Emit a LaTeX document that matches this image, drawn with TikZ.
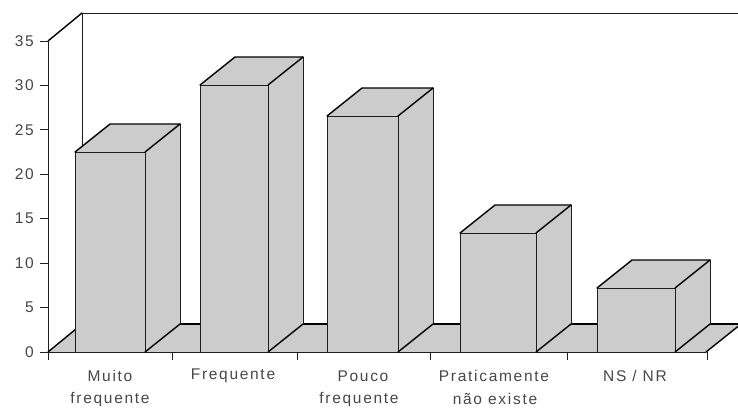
\documentclass[tikz,border=0pt]{standalone}
\usepackage{fontspec}
\setmainfont{Liberation Sans}[LetterSpace=11]
\definecolor{barfill}{RGB}{204,204,204}
\definecolor{inkline}{RGB}{30,30,30}
\tikzset{
  thinedge/.style={draw=inkline, line width=0.8pt, line join=miter},
  thickedge/.style={draw=black, line width=1.4pt, line cap=round, line join=round},
  face/.style={fill=barfill, draw=inkline, line width=0.8pt, line join=miter},
  lbl/.style={font=\fontsize{15.5}{18}\selectfont, inner sep=0pt, text=black!72},
}
\begin{document}
\begin{tikzpicture}[x=1pt,y=-1pt]
\useasboundingbox (0,0) rectangle (738,407);
\clip (0,0) rectangle (738,407);
% back wall and left wall
\coordinate (axtop) at (48,41);
\coordinate (axbot) at (48,352);
\coordinate (bktop) at (82,13);
\coordinate (bkbot) at (82,324);
\coordinate (bkright) at (760,13);
\draw[thinedge] (bktop) -- (bkright);
\draw[thinedge] (bktop) -- (bkbot);
\draw[thickedge] (axtop) -- (bktop);
\draw[thinedge] (axtop) -- (axbot);
% floor
\coordinate (flfl) at (48,352);
\coordinate (flfr) at (706,352);
\coordinate (flbr) at (741,324);
\coordinate (flbl) at (82,324);
\fill[barfill] (flfl) -- (flfr) -- (flbr) -- (flbl) -- cycle;
\draw[thinedge] (flfl) -- (flfr);
\draw[thickedge] (flbl) -- (flbr);
\draw[thickedge] (flfl) -- (flbl);
\draw[thickedge] (flfr) -- (flbr);
% y ticks and labels
\foreach \v in {0,5,...,35}{
  \draw[thinedge] (40,{352-\v*311/35}) -- (48,{352-\v*311/35});
  \node[lbl, anchor=east] (y\v) at (34,{352-\v*311/35}) {\v};
}
% x ticks
\foreach \t in {48,172,297,430,567,707}{
  \draw[thinedge] (\t,352) -- (\t,360);
}
% bars
\foreach \L/\R/\T in {75/145/152, 200/268/85, 327/398/116, 460/536/233, 597/675/288}{
  \fill[barfill] (\L,352) rectangle (\R,\T);
  \fill[barfill] (\R,352) -- ({\R+35},324) -- ({\R+35},{\T-28}) -- (\R,\T) -- cycle;
  \fill[barfill] (\L,\T) -- ({\L+35},{\T-28}) -- ({\R+35},{\T-28}) -- (\R,\T) -- cycle;
  \draw[thinedge] (\L,352) -- (\L,\T) -- (\R,\T) -- (\R,352);
  \draw[thinedge] ({\R+35},324) -- ({\R+35},{\T-28});
  \draw[thickedge] (\L,\T) -- ({\L+35},{\T-28}) -- ({\R+35},{\T-28});
  \draw[thickedge] (\R,\T) -- ({\R+35},{\T-28});
  \draw[thickedge] (\R,352) -- ({\R+35},324);
  \draw[thinedge] (\L,352) -- (\R,352);
}
% category labels
\node[lbl] (c1a) at (110,376) {Muito};
\node[lbl] (c1b) at (110,399) {frequente};
\node[lbl] (c2a) at (233,376) {Frequente};
\node[lbl] (c3a) at (363,376) {Pouco};
\node[lbl] (c3b) at (359,399) {frequente};
\node[lbl] (c4a) at (494,376) {Praticamente};
\node[lbl] (c4b) at (495,399) {não existe};
\node[lbl] (c5a) at (635,376) {NS / NR};
\end{tikzpicture}
\end{document}
